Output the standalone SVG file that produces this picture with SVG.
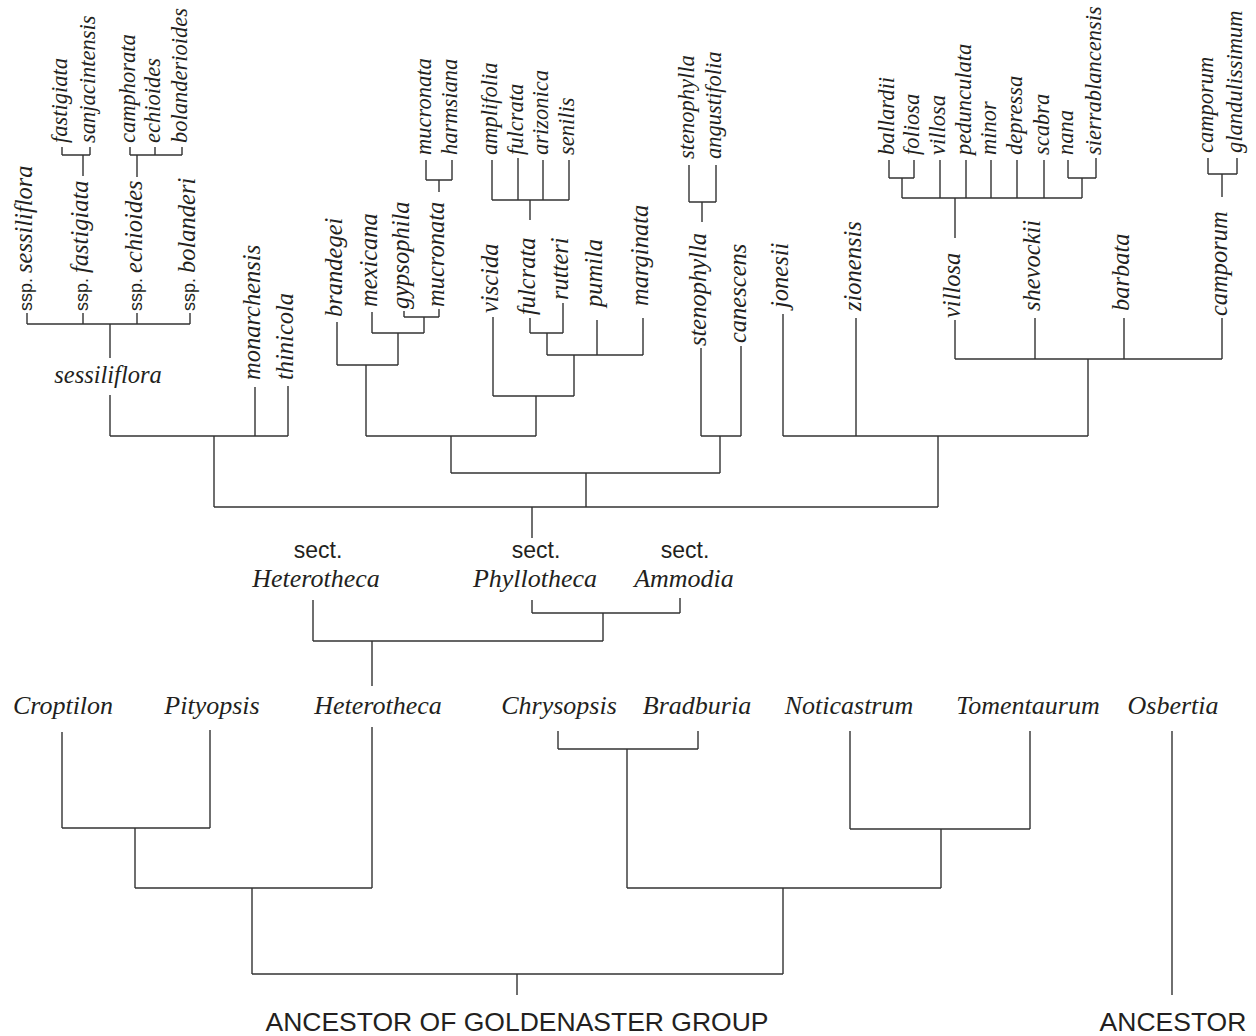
<svg xmlns="http://www.w3.org/2000/svg" width="1256" height="1036" viewBox="0 0 1256 1036">
<style>
.ln{stroke:#333;stroke-width:1.4;fill:none}
text{fill:#231f20}
.it{font-family:"Liberation Serif","Times New Roman",serif;font-style:italic}
.up{font-size:22.5px}
.lo{font-size:24.5px}
.gen{font-size:26px;text-anchor:middle}
.sans{font-family:"Liberation Sans",Arial,sans-serif;font-style:normal}
.ssp{font-size:18px}
.sect{font-size:23px;text-anchor:middle}
.anc{font-size:26.5px;text-anchor:middle}
</style>
<rect width="1256" height="1036" fill="#fff"/>
<g id="connectors" class="ln">
<!-- sessiliflora -->
<path d="M27,313V324M83,313V324M137,313V324M190,313V324M27,324H190M110,324V358M110,395V436"/>
<path d="M62,147V155M90,147V155M62,155H90M83,155V176"/>
<path d="M130,147V155M155,147V155M182,147V155M130,155H182M137,155V177"/>
<path d="M255,387V436M288,386V436M110,436H288M214,436V507"/>
<!-- brandegei group -->
<path d="M337,322V365M372,312V333M404,311V317M439,309V317M404,317H439M424,317V333M372,333H424M398,333V365M337,365H398M366,365V436"/>
<path d="M426,160V180M452,160V180M426,180H452M439,180V192"/>
<!-- viscida group -->
<path d="M492,160V200M518,158V200M543,160V200M569,160V200M492,200H569M530,200V220"/>
<path d="M530,318V333M563,303V333M530,333H563M547,333V355M597,320V355M643,318V355M547,355H643M574,355V396M493,317V396M493,396H574M536,396V436M366,436H536M451,436V473"/>
<!-- stenophylla -->
<path d="M689,165V202M716,165V202M689,202H716M702,202V222"/>
<path d="M701,348V436M741,346V436M701,436H741M720,436V473M451,473H720M586,473V507"/>
<!-- villosa group -->
<path d="M889,160V178M914,160V178M889,178H914M902,178V198M1068,160V178M1096,158V178M1068,178H1096M1082,178V198"/>
<path d="M940,160V198M966,160V198M991,160V198M1017,160V198M1044,160V198M902,198H1082M955,198V238"/>
<path d="M1208,158V174M1237,158V174M1208,174H1237M1222,174V197"/>
<path d="M955,320V359M1035,318V359M1124,318V359M1222,318V359M955,359H1222M1088,359V436M783,314V436M856,318V436M783,436H1088M938,436V507"/>
<path d="M214,507H938M532,507V538"/>
<!-- sections -->
<path d="M313,600V641M532,600V613M680,598V613M532,613H680M603,613V641M313,641H603M372,641V686"/>
<!-- genera -->
<path d="M62,732V828M210,730V828M62,828H210M135,828V888M372,727V888M135,888H372M252,888V974"/>
<path d="M558,731V749M698,731V749M558,749H698M627,749V888M850,731V829M1030,731V829M850,829H1030M941,829V888M627,888H941M783,888V974M252,974H783M517,974V995"/>
<path d="M1172,731V995"/>
</g>
<g id="sessiliflora-subsp" class="it lo">
<text id="ssp-sessiliflora" transform="translate(32,311) rotate(-90)"><tspan class="sans ssp">ssp. </tspan>sessiliflora</text>
<text id="ssp-fastigiata" transform="translate(88,311) rotate(-90)"><tspan class="sans ssp">ssp. </tspan>fastigiata</text>
<text id="ssp-echioides" transform="translate(142,311) rotate(-90)"><tspan class="sans ssp">ssp. </tspan>echioides</text>
<text id="ssp-bolanderi" transform="translate(195,311) rotate(-90)"><tspan class="sans ssp">ssp. </tspan>bolanderi</text>
<text id="sessiliflora" x="108" y="383" text-anchor="middle">sessiliflora</text>
</g>
<g id="upper-taxa" class="it up">
<text id="u-fastigiata" transform="translate(67,143) rotate(-90)">fastigiata</text>
<text id="u-sanjacintensis" transform="translate(95,143) rotate(-90)">sanjacintensis</text>
<text id="u-camphorata" transform="translate(135,143) rotate(-90)">camphorata</text>
<text id="u-echioides" transform="translate(160,143) rotate(-90)">echioides</text>
<text id="u-bolanderioides" transform="translate(187,143) rotate(-90)">bolanderioides</text>
<text id="u-mucronata" transform="translate(431,155) rotate(-90)">mucronata</text>
<text id="u-harmsiana" transform="translate(457,155) rotate(-90)">harmsiana</text>
<text id="u-amplifolia" transform="translate(497,155) rotate(-90)">amplifolia</text>
<text id="u-fulcrata" transform="translate(523,155) rotate(-90)">fulcrata</text>
<text id="u-arizonica" transform="translate(548,155) rotate(-90)">arizonica</text>
<text id="u-senilis" transform="translate(574,155) rotate(-90)">senilis</text>
<text id="u-stenophylla" transform="translate(694,159) rotate(-90)">stenophylla</text>
<text id="u-angustifolia" transform="translate(721,159) rotate(-90)">angustifolia</text>
<text id="u-ballardii" transform="translate(894,155) rotate(-90)">ballardii</text>
<text id="u-foliosa" transform="translate(919,155) rotate(-90)">foliosa</text>
<text id="u-villosa" transform="translate(945,155) rotate(-90)">villosa</text>
<text id="u-pedunculata" transform="translate(971,155) rotate(-90)">pedunculata</text>
<text id="u-minor" transform="translate(996,155) rotate(-90)">minor</text>
<text id="u-depressa" transform="translate(1022,155) rotate(-90)">depressa</text>
<text id="u-scabra" transform="translate(1049,155) rotate(-90)">scabra</text>
<text id="u-nana" transform="translate(1073,155) rotate(-90)">nana</text>
<text id="u-sierrablancensis" transform="translate(1101,155) rotate(-90)">sierrablancensis</text>
<text id="u-camporum" transform="translate(1213,153) rotate(-90)">camporum</text>
<text id="u-glandulissimum" transform="translate(1242,153) rotate(-90)">glandulissimum</text>
</g>
<g id="species" class="it lo">
<text id="monarchensis" transform="translate(260,380) rotate(-90)">monarchensis</text>
<text id="thinicola" transform="translate(293,380) rotate(-90)">thinicola</text>
<text id="brandegei" transform="translate(342,317) rotate(-90)">brandegei</text>
<text id="mexicana" transform="translate(377,307) rotate(-90)">mexicana</text>
<text id="gypsophila" transform="translate(409,309) rotate(-90)">gypsophila</text>
<text id="mucronata" transform="translate(444,307) rotate(-90)">mucronata</text>
<text id="viscida" transform="translate(498,313) rotate(-90)">viscida</text>
<text id="fulcrata" transform="translate(535,315) rotate(-90)">fulcrata</text>
<text id="rutteri" transform="translate(568,300) rotate(-90)">rutteri</text>
<text id="pumila" transform="translate(602,307) rotate(-90)">pumila</text>
<text id="marginata" transform="translate(648,306) rotate(-90)">marginata</text>
<text id="stenophylla" transform="translate(706,346) rotate(-90)">stenophylla</text>
<text id="canescens" transform="translate(746,343) rotate(-90)">canescens</text>
<text id="jonesii" transform="translate(788,308) rotate(-90)">jonesii</text>
<text id="zionensis" transform="translate(861,311) rotate(-90)">zionensis</text>
<text id="villosa" transform="translate(960,318) rotate(-90)">villosa</text>
<text id="shevockii" transform="translate(1040,311) rotate(-90)">shevockii</text>
<text id="barbata" transform="translate(1129,311) rotate(-90)">barbata</text>
<text id="camporum" transform="translate(1227,316) rotate(-90)">camporum</text>
</g>
<g id="sections">
<g id="sect-heterotheca"><text class="sans sect" x="318" y="558">sect.</text><text class="it gen" x="316" y="587">Heterotheca</text></g>
<g id="sect-phyllotheca"><text class="sans sect" x="536" y="558">sect.</text><text class="it gen" x="535" y="587">Phyllotheca</text></g>
<g id="sect-ammodia"><text class="sans sect" x="685" y="558">sect.</text><text class="it gen" x="684" y="587">Ammodia</text></g>
</g>
<g id="genera" class="it gen">
<text id="croptilon" x="63" y="714">Croptilon</text>
<text id="pityopsis" x="212" y="714">Pityopsis</text>
<text id="heterotheca" x="378" y="714">Heterotheca</text>
<text id="chrysopsis" x="559" y="714">Chrysopsis</text>
<text id="bradburia" x="697" y="714">Bradburia</text>
<text id="noticastrum" x="849" y="714">Noticastrum</text>
<text id="tomentaurum" x="1028" y="714">Tomentaurum</text>
<text id="osbertia" x="1173" y="714">Osbertia</text>
</g>
<g id="ancestors" class="sans anc">
<text id="ancestor-goldenaster" x="517" y="1031">ANCESTOR OF GOLDENASTER GROUP</text>
<text id="ancestor" x="1173" y="1031">ANCESTOR</text>
</g>
</svg>
